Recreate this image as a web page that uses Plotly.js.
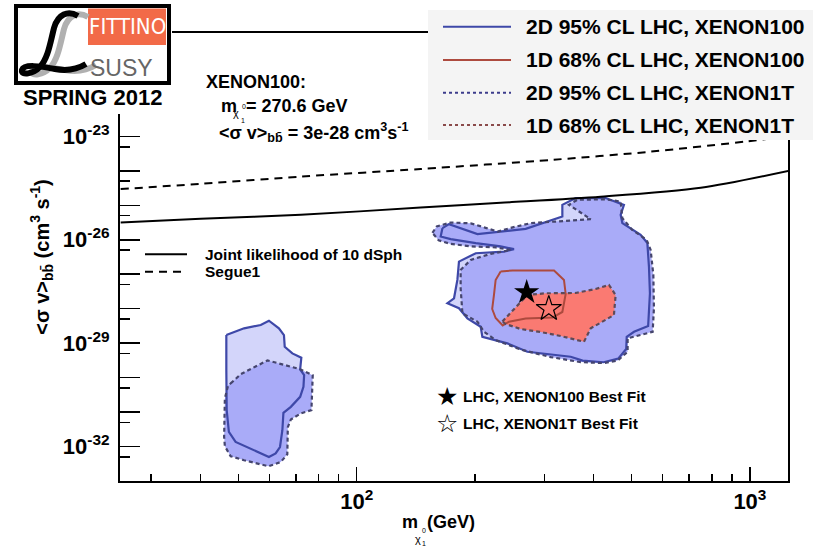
<!DOCTYPE html>
<html><head><meta charset="utf-8">
<script src="https://cdn.plot.ly/plotly-3.0.1.min.js"></script>
<style>html,body{margin:0;padding:0;background:#fff}</style>
</head><body><div id="chart" style="width:813px;height:547px"></div>
<script>
// ---------------- DATA ----------------
// dSph limits
const dsphMass = [25.1, 40.1, 72.1, 145.4, 232.4, 417, 750, 1254];
const dsphSigmaV = [3.16e-26, 4.07e-26, 5.3e-26, 8.6e-26, 1.18e-25, 1.77e-25, 3.23e-25, 1.0e-24];
const segueMass = [25.1, 40.1, 72.1, 145.4, 316.6, 559, 986, 1254];
const segueSigmaV = [2.96e-25, 4.2e-25, 6.8e-25, 1.13e-24, 2.1e-24, 3.6e-24, 7.2e-24, 1.01e-23];

// 2D 95% CL LHC, XENON100 (solid) - low-mass island
const x100LowMass = [46.6,51.7,57.0,59.8,63.4,65.3,65.6,68.6,72.3,71.8,73.5,73.2,71.8,68.0,65.1,64.7,63.8,62.2,59.8,53.8,49.2,47.3,46.7,46.6];
const x100LowSigmaV = [1.72e-29,2.69e-29,3.36e-29,4.48e-29,2.69e-29,1.72e-29,7.85e-30,5.05e-30,3.77e-30,1.73e-30,1.18e-30,5.41e-31,2.77e-31,1.42e-31,9.5e-32,2.98e-32,9.7e-33,6.3e-33,4.99e-33,8.75e-33,1.36e-32,2.65e-32,1.14e-31,1.65e-30];
// 2D 95% CL LHC, XENON100 (solid) - main island
const x100MainMass = [165.2,171.7,202.8,269.0,333.4,333.4,360.4,429.6,478.2,469.1,473.8,527.4,548.5,553.7,556.9,551.1,507.3,486.1,484.6,462.4,424.6,375.5,350.1,317.6,271.6,241.6,208.7,206.7,191.2,182.0,170.1,176.8,180.3,182.0,200.8,236.9,251.2,232.3,200.8,173.4,163.5];
const x100MainSigmaV = [2.17e-26,2.84e-26,1.46e-26,2.07e-26,4.72e-26,1.03e-25,1.62e-25,1.62e-25,1.03e-25,5.3e-26,3.04e-26,1.39e-26,7.96e-27,1.66e-27,2.8e-28,3.14e-29,2.14e-29,1.53e-29,6.73e-30,3.56e-30,2.79e-30,3.12e-30,4.03e-30,4.51e-30,5.62e-30,9.86e-30,1.53e-29,3.0e-29,5.26e-29,1.03e-28,1.44e-28,2.0e-28,6.82e-28,2.32e-27,4.07e-27,4.54e-27,5.33e-27,6.43e-27,7.96e-27,1.04e-26,1.24e-26];

// 2D 95% CL LHC, XENON1T (dashed) - low-mass island
const x1tLowMass = [47.8,50.7,59.3,64.1,71.6,77.3,77.1,76.7,72.0,68.0,66.8,66.6,64.1,59.7,51.7,47.8,46.2,46.0,46.2,47.1];
const x1tLowSigmaV = [6.78e-31,1.26e-30,3.16e-30,2.47e-30,1.77e-30,1.18e-30,3.79e-31,1.14e-31,9.1e-32,6.1e-32,3.64e-32,5.97e-33,3.56e-33,2.67e-33,4.0e-33,5.22e-33,1.02e-32,1.9e-32,2.48e-31,6.05e-31];
// 2D 95% CL LHC, XENON1T (dashed) - main island
const x1tMainMass = [155.8,159.8,173.4,195.0,212.8,228.3,249.3,277.0,320.6,393.6,346.6,363.9,429.6,469.1,473.8,501.9,546.2,559.2,568.1,570.1,565.8,488.7,488.7,461.0,425.5,371.2,311.4,261.2,225.6,210.7,202.8,185.7,183.8,183.8,195.0,219.1,246.4,225.6,195.0,173.4,161.6];
const x1tMainSigmaV = [1.59e-26,2.45e-26,3.16e-26,3.0e-26,2.22e-26,1.73e-26,2.29e-26,3.04e-26,3.38e-26,3.97e-26,1.03e-25,1.45e-25,1.49e-25,1.29e-25,4.25e-26,1.94e-26,9.93e-27,5.08e-27,9.5e-28,1.03e-28,2.14e-29,1.38e-29,5.62e-30,3.12e-30,2.64e-30,2.82e-30,3.94e-30,6.52e-30,1.23e-29,2.14e-29,4.19e-29,7.35e-29,3.92e-28,1.33e-27,2.61e-27,3.89e-27,5.08e-27,6.01e-27,6.43e-27,7.6e-27,9.6e-27];

// 1D 68% CL LHC, XENON100 (solid red)
const x100OneDMass = [232.3,249.3,317.6,336.6,340.0,333.4,314.6,269.0,243.9,235.1,225.6,221.1,223.4,225.6];
const x100OneDSigmaV = [1.2e-27,1.29e-27,1.29e-27,6.82e-28,2.67e-28,8.02e-29,5.55e-29,5.19e-29,4.19e-29,3.25e-29,5.37e-29,9.8e-29,2.5e-28,6.82e-28];
// 1D 68% CL LHC, XENON1T (dashed, filled red)
const x1tOneDMass = [234.7,271.6,302.5,360.4,405.3,438.1,455.5,451.0,393.6,378.4,330.3,293.7,261.2,239.3];
const x1tOneDSigmaV = [4.25e-29,2.5e-28,2.8e-28,2.86e-28,3.74e-28,4.89e-28,2.5e-28,6.56e-29,2.69e-29,1.1e-29,1.61e-29,2.1e-29,2.57e-29,3.59e-29];

// Best fit points
const bestX100Mass = [270.6];
const bestX100SigmaV = [3e-28];
const bestX1tMass = [308];
const bestX1tSigmaV = [1.0e-28];

// Axes
const xRange = [25, 1250];
const yRange = [1e-33, 1e-20];
const xTickVals = [100, 1000];
const xTickText = ['10<sup>2</sup>', '10<sup>3</sup>'];
const xMinorVals = [30,40,50,60,70,80,90,200,300,400,500,600,700,800,900];
const yTickVals = [1e-32, 1e-29, 1e-26, 1e-23];
const yTickText = ['10<sup>-32</sup>','10<sup>-29</sup>','10<sup>-26</sup>','10<sup>-23</sup>'];
const yDecadeVals = [1e-33,1e-32,1e-31,1e-30,1e-29,1e-28,1e-27,1e-26,1e-25,1e-24,1e-23,1e-22,1e-21];
const yMinorVals = [5e-33,5e-32,5e-31,5e-30,5e-29,5e-28,5e-27,5e-26,5e-25,5e-24,5e-23,5e-22,5e-21];

const legendLabels = ['2D 95% CL LHC, XENON100','1D 68% CL LHC, XENON100','2D 95% CL LHC, XENON1T','1D 68% CL LHC, XENON1T'];

// ---------------- STYLE ----------------
const FONT = 'Liberation Sans, Arial, Helvetica, sans-serif';
const C_LIGHT = '#d3d5fa';
const C_MED = '#a9abf8';
const C_RED_FILL = '#fa7a72';
const C_BLUE = '#3e48a8';
const C_DASH = '#45456e';
const C_RED = '#ad4a3e';
const C_RED_DASH = '#5e4a58';

const Lp=120, Rp=788, Tp=33, Bp=481, Wp=Rp-Lp, Hp=Bp-Tp;
const px = v => (v-Lp)/Wp;
const py = v => (Bp-v)/Hp;
const closeRing = a => a.concat([a[0]]);
function pathPx(s, dx, dy){
  dx = dx||0; dy = dy||0;
  return s.replace(/(-?\d+(?:\.\d+)?),(-?\d+(?:\.\d+)?)/g, (m,a,b)=> px(+a+dx).toFixed(5)+','+py(+b+dy).toFixed(5));
}

function fillTrace(x,y,color){
  return {x:x, y:y, type:'scatter', mode:'lines', fill:'toself', fillcolor:color,
    line:{width:0, color:color}, hoverinfo:'skip', showlegend:false};
}
function lineTrace(x,y,color,dash,width){
  return {x:closeRing(x), y:closeRing(y), type:'scatter', mode:'lines',
    line:{color:color, dash:dash, width:width}, hoverinfo:'skip', showlegend:false};
}

const traces = [
  fillTrace(x100LowMass, x100LowSigmaV, C_LIGHT),
  fillTrace(x100MainMass, x100MainSigmaV, C_LIGHT),
  fillTrace(x1tLowMass, x1tLowSigmaV, C_MED),
  fillTrace(x1tMainMass, x1tMainSigmaV, C_MED),
  fillTrace(x1tOneDMass, x1tOneDSigmaV, C_RED_FILL),
  lineTrace(x100LowMass, x100LowSigmaV, C_BLUE, 'solid', 2.2),
  lineTrace(x100MainMass, x100MainSigmaV, C_BLUE, 'solid', 2.2),
  lineTrace(x1tLowMass, x1tLowSigmaV, C_DASH, '4px,3px', 2.2),
  lineTrace(x1tMainMass, x1tMainSigmaV, C_DASH, '4px,3px', 2.2),
  lineTrace(x100OneDMass, x100OneDSigmaV, C_RED, 'solid', 2),
  lineTrace(x1tOneDMass, x1tOneDSigmaV, C_RED_DASH, '4px,3px', 2.2),
  {x:dsphMass, y:dsphSigmaV, type:'scatter', mode:'lines', line:{color:'#000', width:2, shape:'spline', smoothing:0.8}, hoverinfo:'skip', showlegend:false},
  {x:bestX100Mass, y:bestX100SigmaV, type:'scatter', mode:'markers', marker:{symbol:'star', size:19, color:'#000', line:{width:0}}, hoverinfo:'skip', showlegend:false},
  {x:bestX1tMass, y:bestX1tSigmaV, type:'scatter', mode:'markers', marker:{symbol:'star-open', size:19, color:'#000', line:{width:1.2, color:'#000'}}, hoverinfo:'skip', showlegend:false},
  {x:segueMass, y:segueSigmaV, yaxis:'y2', type:'scatter', mode:'lines', line:{color:'#000', width:2, dash:'8px,6px', shape:'spline', smoothing:0.8}, hoverinfo:'skip', showlegend:false}
];

// ---------------- SHAPES ----------------
const legendColors = [C_BLUE, C_RED, '#3c3c8c', '#8a4a4a'];
const legendDash = ['solid','solid','3px,3px','3px,3px'];
const legendRowsY = [26.7, 60, 92.7, 125];

const shapes = [];
// logo white background
shapes.push({type:'rect', xref:'paper', yref:'paper', x0:px(0), x1:px(172), y0:py(0), y1:py(114), fillcolor:'#fff', line:{width:0}, layer:'above'});
// legend box
shapes.push({type:'rect', xref:'paper', yref:'paper', x0:px(428), x1:px(813), y0:py(10), y1:py(140), fillcolor:'#f4f4f4', line:{width:0}, layer:'above'});
legendRowsY.forEach((yy,i)=>{
  shapes.push({type:'line', xref:'paper', yref:'paper', x0:px(443), x1:px(511), y0:py(yy), y1:py(yy), line:{color:legendColors[i], width:2, dash:legendDash[i]}, layer:'above'});
});
// dSph legend lines
shapes.push({type:'line', xref:'paper', yref:'paper', x0:px(145), x1:px(187), y0:py(254.3), y1:py(254.3), line:{color:'#000', width:2}, layer:'above'});
shapes.push({type:'line', xref:'paper', yref:'paper', x0:px(145), x1:px(185), y0:py(271.7), y1:py(271.7), line:{color:'#000', width:2, dash:'8px,6px'}, layer:'above'});
// logo
shapes.push({type:'rect', xref:'paper', yref:'paper', x0:px(16), x1:px(169), y0:py(6), y1:py(83), fillcolor:'#fff', line:{width:4, color:'#000'}, layer:'above'});
shapes.push({type:'rect', xref:'paper', yref:'paper', x0:px(88), x1:px(166), y0:py(8.5), y1:py(45), fillcolor:'#f26a48', line:{width:0}, layer:'above'});
const Lstroke = 'M 78,16 C 68,10 58,14 54,28 C 50,44 48,58 40,67 C 33,74 21,76 22,70 C 24,64 40,66 55,69 C 66,71 76,70 86,64';
shapes.push({type:'path', xref:'paper', yref:'paper', path:pathPx(Lstroke, 10, 1), line:{color:'#b0b0b0', width:6}, layer:'above'});
shapes.push({type:'path', xref:'paper', yref:'paper', path:pathPx(Lstroke, 0, 0), line:{color:'#000', width:6}, layer:'above'});

// ---------------- ANNOTATIONS ----------------
function txt(x,y,text,size,opts){
  opts = opts||{};
  return Object.assign({xref:'paper', yref:'paper', x:px(x), y:py(y), text:text, showarrow:false,
    xanchor:'left', yanchor:'middle', borderpad:0,
    font:{family:FONT, size:size, color:'#000', weight:(opts.weight||'bold')}}, opts.extra||{});
}
const annotations = [];
legendRowsY.forEach((yy,i)=> annotations.push(txt(525, yy, legendLabels[i], 21)));
annotations.push(txt(204, 254.3, 'Joint likelihood of 10 dSph', 15.5));
annotations.push(txt(204, 271.7, 'Segue1', 15.5));
annotations.push(txt(462, 396, 'LHC, XENON100 Best Fit', 15.5));
annotations.push(txt(462, 423.3, 'LHC, XENON1T Best Fit', 15.5));
annotations.push(Object.assign(txt(446.7, 396, '★', 25, {weight:'normal'}), {xanchor:'center', font:{family:'DejaVu Sans', size:25, color:'#000'}}));
annotations.push(Object.assign(txt(446.7, 423.3, '☆', 25, {weight:'normal'}), {xanchor:'center', font:{family:'DejaVu Sans', size:25, color:'#000'}}));
// XENON100 info block
annotations.push(txt(205, 82, 'XENON100:', 18));
annotations.push(txt(220, 106, 'm', 18));
annotations.push(txt(232, 113, 'χ', 11, {weight:'normal'}));
annotations.push(txt(240.5, 106.5, '0', 7, {weight:'normal'}));
annotations.push(txt(240, 120, '1', 7, {weight:'normal'}));
annotations.push(txt(245, 106, '= 270.6 GeV', 18));
annotations.push(txt(218, 132, '&lt;σ v&gt;<sub>bb̄</sub> = 3e-28 cm<sup>3</sup>s<sup>-1</sup>', 18));
// x axis title
annotations.push(txt(401, 522, 'm', 18));
annotations.push(txt(414, 538.5, 'χ', 11, {weight:'normal'}));
annotations.push(txt(421, 530.5, '0', 7, {weight:'normal'}));
annotations.push(txt(420.5, 543.5, '1', 7, {weight:'normal'}));
annotations.push(txt(426, 522, '(GeV)', 18));
// logo texts
annotations.push(Object.assign(txt(127, 27, 'FITTINO', 22, {weight:'normal'}), {xanchor:'center', font:{family:'Liberation Sans Narrow, DejaVu Sans Condensed, sans-serif', size:22, color:'#fff'}}));
annotations.push(Object.assign(txt(121, 68, 'SUSY', 23, {weight:'normal'}), {xanchor:'center', font:{family:FONT, size:23, color:'#666'}}));
annotations.push(Object.assign(txt(92, 97, 'SPRING 2012', 22), {xanchor:'center'}));

const yCommon = {type:'log', range:[Math.log10(yRange[0]), Math.log10(yRange[1])],
  showgrid:false, zeroline:false, fixedrange:true};

const layout = {
  width:813, height:547,
  margin:{l:Lp, r:813-Rp, t:Tp, b:547-Bp, pad:0},
  paper_bgcolor:'#fff', plot_bgcolor:'#fff',
  showlegend:false,
  xaxis:{type:'log', range:[Math.log10(xRange[0]), Math.log10(xRange[1])],
    tickmode:'array', tickvals:xTickVals, ticktext:xTickText,
    ticks:'inside', ticklen:14, tickwidth:1.5, tickcolor:'#000',
    minor:{tickmode:'array', tickvals:xMinorVals, ticks:'inside', ticklen:7, tickwidth:1.5, tickcolor:'#000', showgrid:false},
    showgrid:false, zeroline:false, showline:true, linecolor:'#000', linewidth:2, mirror:true,
    tickfont:{family:FONT, size:22, color:'#000', weight:'bold'}, fixedrange:true},
  yaxis:Object.assign({}, yCommon, {
    tickmode:'array', tickvals:yTickVals, ticktext:yTickText,
    ticks:'inside', ticklen:20, tickwidth:1.5, tickcolor:'#000',
    minor:{tickmode:'array', tickvals:yMinorVals, ticks:'inside', ticklen:10, tickwidth:1.5, tickcolor:'#000', showgrid:false},
    showline:true, linecolor:'#000', linewidth:2, mirror:true,
    tickfont:{family:FONT, size:22, color:'#000', weight:'bold'}, ticklabelstandoff:4,
    title:{text:'&lt;σ v&gt;<sub>bb̄</sub> (cm<sup>3</sup> s<sup>-1</sup>)', font:{family:FONT, size:20, color:'#000', weight:'bold'}, standoff:8}}),
  yaxis2:Object.assign({}, yCommon, {
    overlaying:'y', side:'left', anchor:'x',
    tickmode:'array', tickvals:yDecadeVals,
    ticks:'inside', ticklen:20, tickwidth:1.5, tickcolor:'#000',
    showticklabels:false, showline:false}),
  shapes:shapes,
  annotations:annotations
};

Plotly.newPlot('chart', traces, layout, {staticPlot:true, displayModeBar:false});
</script>
</body></html>
